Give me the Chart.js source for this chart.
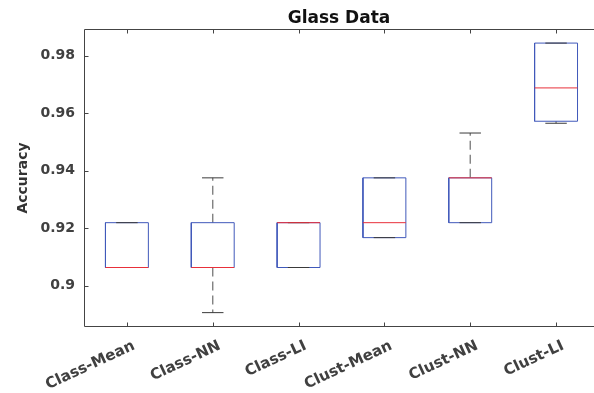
<!DOCTYPE html>
<html>
<head>
<meta charset="utf-8">
<script src="https://cdn.jsdelivr.net/npm/chart.js@4"></script>
<style>
  html, body { margin: 0; padding: 0; background: #fff; overflow: hidden; }
  canvas { display: block; }
</style>
</head>
<body>
<canvas id="chart" width="594" height="393"></canvas>
<script>
const categories = ['Class-Mean', 'Class-NN', 'Class-LI', 'Clust-Mean', 'Clust-NN', 'Clust-LI'];

// box plot stats per method
const minVals    = [0.9063, 0.8906, 0.9063, 0.9167, 0.9219, 0.9565];
const q1Vals     = [0.9063, 0.9063, 0.9063, 0.9167, 0.9219, 0.9572];
const medianVals = [0.9063, 0.9063, 0.9219, 0.9219, 0.9375, 0.9688];
const q3Vals     = [0.9219, 0.9219, 0.9219, 0.9375, 0.9375, 0.9844];
const maxVals    = [0.9219, 0.9375, 0.9219, 0.9375, 0.9531, 0.9844];

const yTicks = [0.9, 0.92, 0.94, 0.96, 0.98];
const yTickLabels = ['0.9', '0.92', '0.94', '0.96', '0.98'];

const boxHalf = 0.25;
const capHalf = 0.125;

// build line segments (null breaks the line between segments)
const boxData = [];
const medianData = [];
const whiskerData = [];
const capData = [];
for (let i = 0; i < categories.length; i++) {
    const x = i + 1;
    boxData.push({x: x - boxHalf, y: q1Vals[i]}, {x: x + boxHalf, y: q1Vals[i]},
                 {x: x + boxHalf, y: q3Vals[i]}, {x: x - boxHalf, y: q3Vals[i]},
                 {x: x - boxHalf, y: q1Vals[i]}, {x: x, y: null});
    medianData.push({x: x - boxHalf, y: medianVals[i]}, {x: x + boxHalf, y: medianVals[i]}, {x: x, y: null});
    whiskerData.push({x: x, y: q3Vals[i]}, {x: x, y: maxVals[i]}, {x: x, y: null},
                     {x: x, y: q1Vals[i]}, {x: x, y: minVals[i]}, {x: x, y: null});
    capData.push({x: x - capHalf, y: maxVals[i]}, {x: x + capHalf, y: maxVals[i]}, {x: x, y: null},
                 {x: x - capHalf, y: minVals[i]}, {x: x + capHalf, y: minVals[i]}, {x: x, y: null});
}

const frameColor = '#444444';

// axis lines with inward ticks, matlab style (right side is cut off in the original)
const framePlugin = {
    id: 'frame',
    afterDatasetsDraw(chart) {
        const ctx = chart.ctx;
        const a = chart.chartArea;
        const xs = chart.scales.x;
        const ys = chart.scales.y;
        const l = Math.round(a.left) + 0.5, r = chart.width + 5;
        const t = Math.round(a.top) + 0.5, b = Math.round(a.bottom) - 0.5;
        ctx.save();
        ctx.strokeStyle = frameColor;
        ctx.lineWidth = 1;
        const seg = (x1, y1, x2, y2) => {
            ctx.beginPath();
            ctx.moveTo(x1, y1);
            ctx.lineTo(x2, y2);
            ctx.stroke();
        };
        seg(l, t, r, t);
        seg(l, t, l, b);
        seg(l, b, r, b);
        xs.ticks.forEach(tk => {
            const px = Math.round(xs.getPixelForValue(tk.value)) + 0.5;
            seg(px, b, px, b - 4);
            seg(px, t, px, t + 4);
        });
        ys.ticks.forEach(tk => {
            const py = Math.round(ys.getPixelForValue(tk.value)) + 0.5;
            seg(l, py, l + 4, py);
        });
        ctx.restore();
    }
};

new Chart(document.getElementById('chart'), {
    type: 'line',
    data: {
        datasets: [
            {
                label: 'median',
                data: medianData,
                borderColor: '#e8303a',
                borderWidth: 1,
                pointRadius: 0,
                order: 0
            },
            {
                label: 'caps',
                data: capData,
                borderColor: '#3a3a3a',
                borderWidth: 1,
                pointRadius: 0,
                order: 1
            },
            {
                label: 'box',
                data: boxData,
                borderColor: '#4059ba',
                borderWidth: 1,
                pointRadius: 0,
                order: 2
            },
            {
                label: 'whiskers',
                data: whiskerData,
                borderColor: '#777777',
                borderWidth: 1.3,
                borderDash: [9, 5],
                pointRadius: 0,
                order: 3
            }
        ]
    },
    options: {
        responsive: false,
        animation: false,
        layout: { padding: 0 },
        plugins: {
            legend: { display: false },
            tooltip: { enabled: false },
            title: {
                display: true,
                text: 'Glass Data',
                fullSize: false,
                color: '#111111',
                font: { family: 'DejaVu Sans', size: 17, weight: 'bold' },
                padding: { top: 8, bottom: 0.6 }
            }
        },
        scales: {
            x: {
                type: 'linear',
                min: 0.5,
                max: 6.442,   // the axes run past the right edge of the picture
                grid: { display: false, drawTicks: false, tickLength: 0 },
                border: { display: false },
                afterBuildTicks: scale => {
                    scale.ticks = categories.map((c, i) => ({ value: i + 1 }));
                },
                afterFit: scale => { scale.height = 66; },
                ticks: {
                    autoSkip: false,
                    minRotation: 25,
                    maxRotation: 25,
                    padding: 10,
                    labelOffset: 7,
                    color: '#404040',
                    font: { family: 'DejaVu Sans', size: 15, weight: 'bold' },
                    callback: v => categories[v - 1]
                }
            },
            y: {
                min: 0.8856,
                max: 0.9893,
                grid: { display: false, drawTicks: false, tickLength: 0 },
                border: { display: false },
                afterBuildTicks: scale => {
                    scale.ticks = yTicks.map(v => ({ value: v }));
                },
                afterFit: scale => { scale.width = 84; },
                ticks: {
                    padding: 9,
                    color: '#404040',
                    font: { family: 'DejaVu Sans', size: 14, weight: 'bold' },
                    callback: v => yTickLabels[yTicks.indexOf(v)]
                },
                title: {
                    display: true,
                    text: 'Accuracy',
                    color: '#333333',
                    font: { family: 'DejaVu Sans', size: 14, weight: 'bold' },
                    padding: { top: 15, bottom: 0 }
                }
            }
        }
    },
    plugins: [framePlugin]
});
</script>
</body>
</html>
